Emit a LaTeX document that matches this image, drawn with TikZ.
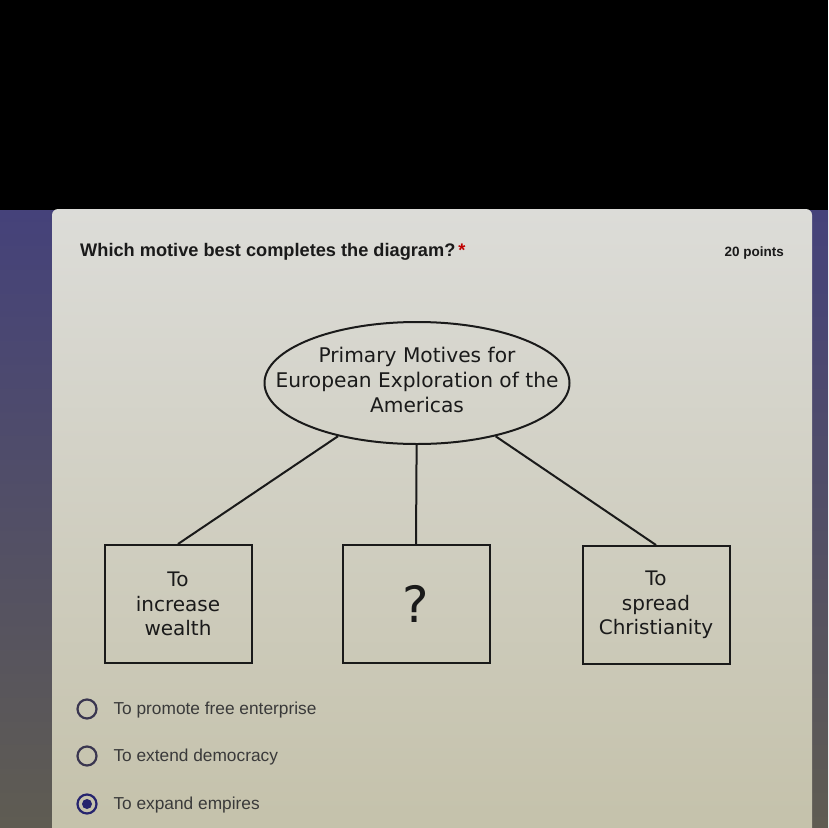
\documentclass[tikz,border=0pt]{standalone}
\usepackage{fontspec}
\setmainfont{DejaVu Sans}
\newfontfamily\uifont{Liberation Sans}
\usetikzlibrary{positioning,shapes.geometric}

\definecolor{cardtop}{HTML}{DCDCD8}
\definecolor{cardbot}{HTML}{C4C1AA}
\definecolor{sidetop}{HTML}{45427A}
\definecolor{sidebot}{HTML}{5F5C52}
\definecolor{ink}{HTML}{1A1A1A}
\definecolor{uigrey}{HTML}{3A3A3A}
\definecolor{radio}{HTML}{3A3650}
\definecolor{radiosel}{HTML}{26246E}

\begin{document}
\begin{tikzpicture}[x=1pt, y=-1pt, every node/.style={text=ink},
  motive/.style={draw=ink, line width=2pt, minimum width=147pt, minimum height=118pt, align=center, font=\fontsize{20}{24.5}\selectfont},
  option/.style={anchor=west, text=uigrey, font=\uifont\fontsize{17.3}{19}\selectfont},
  radiobtn/.style={circle, draw=radio, line width=2.2pt, minimum size=19pt, inner sep=0pt}]
  \useasboundingbox (0,0) rectangle (828,828);
  % screen behind the form
  \fill[black] (0,0) rectangle (828,828);
  \shade[top color=sidetop, bottom color=sidebot] (0,210) rectangle (828,828);
  \shade[top color=cardtop, bottom color=cardbot, rounded corners=6pt] (52,209) rectangle (812,840);
  % question header
  \node[anchor=base west, inner sep=0pt, font=\uifont\bfseries\fontsize{18.2}{20}\selectfont] (qtext) at (80,256) {Which motive best completes the diagram?\,\textcolor{red!75!black}{*}};
  \node[anchor=base east, inner sep=0pt, font=\uifont\bfseries\fontsize{13.5}{16}\selectfont] (pts) at (784,256) {20 points};
  % diagram
  \node[ellipse, draw=ink, line width=2pt, minimum width=305pt, minimum height=122pt] (top) at (417,383) {};
  \node[align=center, font=\fontsize{20.2}{25}\selectfont] (toplbl) at (417,380) {Primary Motives for\\European Exploration of the\\Americas};
  \node[motive] (inc) at (178,604) {To\\increase\\wealth};
  \node[motive, font=\fontsize{50}{50}\selectfont] (q) at (416,604) {?};
  \node[motive] (chr) at (656,605) {To\\spread\\Christianity};
  \draw[ink, line width=2pt] (top) -- (inc.north);
  \draw[ink, line width=2pt] (top) -- (q.north);
  \draw[ink, line width=2pt] (top) -- (chr.north);
  % answer choices
  \node[radiobtn] (r1) at (87,709) {};
  \node[radiobtn] (r2) at (87,756) {};
  \node[radiobtn, draw=radiosel] (r3) at (87,804) {};
  \fill[radiosel] (r3.center) circle (5pt);
  \node[option] (o1) at (110,710) {To promote free enterprise};
  \node[option] (o2) at (110,757) {To extend democracy};
  \node[option] (o3) at (110,805) {To expand empires};
\end{tikzpicture}
\end{document}
